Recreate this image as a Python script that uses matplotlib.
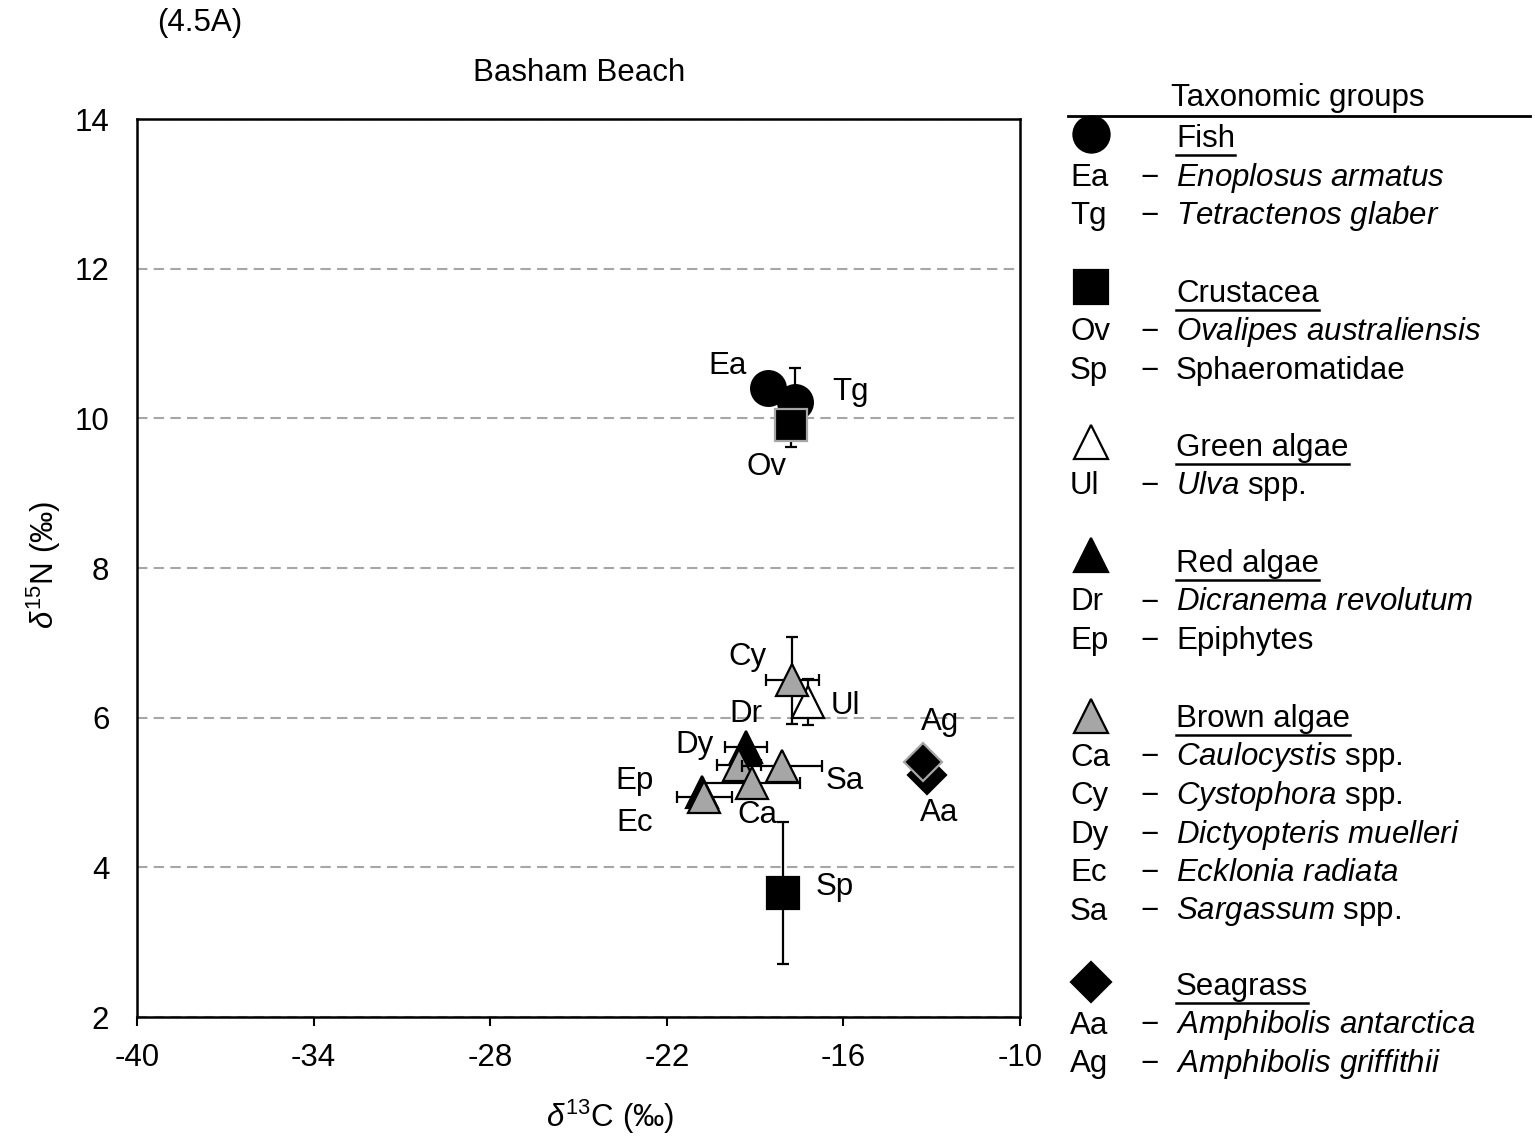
import matplotlib
matplotlib.use('Agg')
import matplotlib.pyplot as plt
from matplotlib.lines import Line2D

plt.rcParams['font.family'] = ['Liberation Sans', 'DejaVu Sans']
plt.rcParams['mathtext.fontset'] = 'custom'
plt.rcParams['mathtext.rm'] = 'Liberation Sans'
plt.rcParams['mathtext.it'] = 'Liberation Sans:italic'
plt.rcParams['axes.unicode_minus'] = False

# dados (ordem = ordem de desenho)
codes = ['Ea', 'Tg', 'Ov', 'Ul', 'Cy', 'Dr', 'Dy', 'Sa', 'Ca', 'Ep', 'Ec', 'Sp', 'Aa', 'Ag']
groups = ['Fish', 'Fish', 'Crustacea', 'Green algae', 'Brown algae', 'Red algae', 'Brown algae',
          'Brown algae', 'Brown algae', 'Red algae', 'Brown algae', 'Crustacea', 'Seagrass', 'Seagrass']
d13c = [-18.56, -17.64, -17.78, -17.20, -17.74, -19.31, -19.55, -18.08, -19.12, -20.80, -20.73, -18.05, -13.16, -13.29]
d15n = [10.40, 10.22, 9.91, 6.21, 6.50, 5.61, 5.37, 5.36, 5.13, 5.01, 4.94, 3.66, 5.23, 5.41]
sd13c = [0, 0, 0, 0, 0.90, 0.70, 0.76, 1.36, 1.65, 0, 0.93, 0, 0, 0]
sd15n = [0, 0.45, 0.29, 0.31, 0.58, 0, 0, 0, 0, 0, 0, 0.95, 0, 0]
gray_edge = ['Ov', 'Ag']

# deslocamento dos rótulos (pontos)
lab_dx = [-29, 40, -18, 27, -32, 0, -32, 45, 4, -49, -50, 37, 9, 12]
lab_dy = [16, 7, -30, -3, 17, 24, 14, -11, -23, 8, -19, 4, -27, 29]

# legenda
legend_groups = ['Fish', 'Crustacea', 'Green algae', 'Red algae', 'Brown algae', 'Seagrass']
legend_species = [
    [('Ea', 'Enoplosus armatus', ''), ('Tg', 'Tetractenos glaber', '')],
    [('Ov', 'Ovalipes australiensis', ''), ('Sp', '', 'Sphaeromatidae')],
    [('Ul', 'Ulva', ' spp.')],
    [('Dr', 'Dicranema revolutum', ''), ('Ep', '', 'Epiphytes')],
    [('Ca', 'Caulocystis', ' spp.'), ('Cy', 'Cystophora', ' spp.'), ('Dy', 'Dictyopteris muelleri', ''),
     ('Ec', 'Ecklonia radiata', ''), ('Sa', 'Sargassum', ' spp.')],
    [('Aa', 'Amphibolis antarctica', ''), ('Ag', 'Amphibolis griffithii', '')],
]

styles = {
    'Fish': dict(marker='o', mfc='black', ms=25),
    'Crustacea': dict(marker='s', mfc='black', ms=23),
    'Green algae': dict(marker='^', mfc='white', ms=23),
    'Red algae': dict(marker='^', mfc='black', ms=23),
    'Brown algae': dict(marker='^', mfc='#A6A6A6', ms=23),
    'Seagrass': dict(marker='D', mfc='black', ms=19),
}

fs = 22.5
W, H = 1535, 1138
fig = plt.figure(figsize=(W / 100, H / 100), dpi=100)
ax = fig.add_axes([0.0893, 0.1063, 0.5752, 0.7891])

for i, c in enumerate(codes):
    st = styles[groups[i]]
    ec = '#A6A6A6' if c in gray_edge else 'black'
    ax.errorbar(d13c[i], d15n[i],
                xerr=sd13c[i] if sd13c[i] > 0 else None,
                yerr=sd15n[i] if sd15n[i] > 0 else None,
                fmt=st['marker'], ms=st['ms'], mfc=st['mfc'], mec=ec, mew=1.6,
                ecolor='black', elinewidth=1.6, capsize=4, capthick=1.6, zorder=3 + i * 0.1)
    ax.annotate(c, (d13c[i], d15n[i]), xytext=(lab_dx[i], lab_dy[i]), textcoords='offset points',
                ha='center', va='center', fontsize=fs, zorder=10)

ax.set_xlim(-40, -10)
ax.set_ylim(2, 14)
ax.set_xticks(range(-40, -9, 6))
ax.set_yticks(range(2, 15, 2))
ax.yaxis.grid(True, ls=(0, (5, 3)), color='#A6A6A6', lw=1.5)
ax.set_axisbelow(True)
ax.tick_params(axis='x', direction='out', length=6.5, width=1.5, pad=12, labelsize=fs)
ax.tick_params(axis='y', length=0, pad=20, labelsize=fs)
for s in ax.spines.values():
    s.set_linewidth(1.8)

ax.set_xlabel('$\\mathit{δ}^{13}$C ($\\mathit{‰}$)', fontsize=fs)
ax.xaxis.set_label_coords(0.536, -0.111)
ax.xaxis.label.set_va('center')
ax.set_ylabel('$\\mathit{δ}^{15}$N ($\\mathit{‰}$)', fontsize=fs)
ax.yaxis.set_label_coords(-0.106, 0.503)
ax.yaxis.label.set_va('center')

fig.text(200 / W, 1 - 23 / H, '(4.5A)', fontsize=fs, ha='center', va='center')
fig.text(579 / W, 1 - 73 / H, 'Basham Beach', fontsize=fs, ha='center', va='center')

# legenda manual
fig.text(1298 / W, 1 - 98 / H, 'Taxonomic groups', fontsize=fs, ha='center', va='center')
fig.add_artist(Line2D([1068 / W, 1530 / W], [1 - 116 / H, 1 - 116 / H], color='black', lw=2,
                      transform=fig.transFigure))

head_y = [139, 294, 448, 564, 719, 987]
mark_y = [134, 287, 442, 555, 716, 982]
row_h = 38.5
renderer = fig.canvas.get_renderer()
for g, hy, my, sp in zip(legend_groups, head_y, mark_y, legend_species):
    st = styles[g]
    fig.add_artist(Line2D([1091 / W], [1 - my / H], marker=st['marker'], ms=st['ms'] + 1,
                          mfc=st['mfc'], mec='black', mew=1.6, ls='none', transform=fig.transFigure))
    t = fig.text(1176 / W, 1 - hy / H, g, fontsize=fs, ha='left', va='center')
    bb = t.get_window_extent(renderer)
    uy = 1 - (hy + 16) / H
    fig.add_artist(Line2D([bb.x0 / W, bb.x1 / W], [uy, uy], color='black', lw=1.8,
                          transform=fig.transFigure))
    for k, (ab, it, rest) in enumerate(sp):
        y = 1 - (hy + row_h * (k + 1)) / H
        fig.text(1070 / W, y, ab, fontsize=fs, ha='left', va='center')
        fig.text(1150 / W, y, '−', fontsize=fs, ha='center', va='center')
        if it:
            txt = '$\\mathit{' + it.replace(' ', '\\ ') + '}$' + rest
        else:
            txt = rest
        fig.text(1176 / W, y, txt, fontsize=fs, ha='left', va='center')

plt.savefig('out.png', dpi=100)
